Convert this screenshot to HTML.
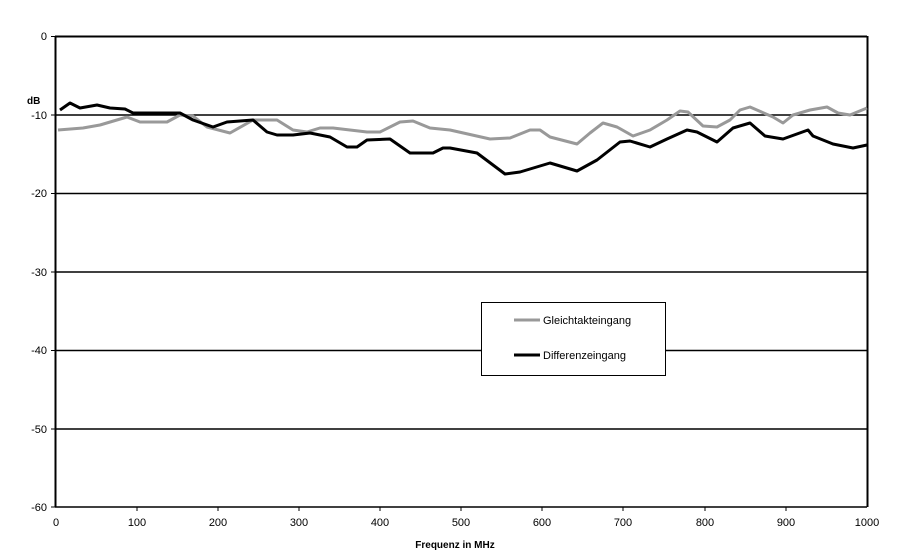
<!DOCTYPE html>
<html><head><meta charset="utf-8"><style>body{margin:0;background:#fff}svg{display:block}</style></head>
<body>
<svg width="910" height="552" viewBox="0 0 910 552" font-family="Liberation Sans, sans-serif">
<rect width="910" height="552" fill="#fff"/>
<g stroke="#000" stroke-width="1.5">
<line x1="55" y1="36.5" x2="867" y2="36.5" stroke-width="2"/>
<line x1="55" y1="115" x2="867" y2="115"/>
<line x1="55" y1="193.5" x2="867" y2="193.5"/>
<line x1="55" y1="272" x2="867" y2="272"/>
<line x1="55" y1="350.5" x2="867" y2="350.5"/>
<line x1="55" y1="429" x2="867" y2="429"/>
<line x1="55" y1="507" x2="867" y2="507"/>
<line x1="55.5" y1="36" x2="55.5" y2="507" stroke-width="2"/>
<line x1="867.5" y1="36" x2="867.5" y2="507" stroke-width="2"/>
</g>
<g stroke="#000" stroke-width="1">
<line x1="51" y1="36.5" x2="55" y2="36.5"/><line x1="51" y1="115" x2="55" y2="115"/><line x1="51" y1="193.5" x2="55" y2="193.5"/><line x1="51" y1="272" x2="55" y2="272"/><line x1="51" y1="350.5" x2="55" y2="350.5"/><line x1="51" y1="429" x2="55" y2="429"/><line x1="51" y1="507" x2="55" y2="507"/>
<line x1="137" y1="507" x2="137" y2="511"/><line x1="218" y1="507" x2="218" y2="511"/><line x1="299" y1="507" x2="299" y2="511"/><line x1="380" y1="507" x2="380" y2="511"/><line x1="461" y1="507" x2="461" y2="511"/><line x1="542" y1="507" x2="542" y2="511"/><line x1="623" y1="507" x2="623" y2="511"/><line x1="705" y1="507" x2="705" y2="511"/><line x1="786" y1="507" x2="786" y2="511"/>
</g>
<g font-size="11" text-anchor="end" fill="#000">
<text x="47" y="40">0</text><text x="47" y="119">-10</text><text x="47" y="197">-20</text><text x="47" y="276">-30</text><text x="47" y="354">-40</text><text x="47" y="433">-50</text><text x="47" y="511">-60</text>
</g>
<g font-size="11" text-anchor="middle" fill="#000">
<text x="56" y="526">0</text><text x="137" y="526">100</text><text x="218" y="526">200</text><text x="299" y="526">300</text><text x="380" y="526">400</text><text x="461" y="526">500</text><text x="542" y="526">600</text><text x="623" y="526">700</text><text x="705" y="526">800</text><text x="786" y="526">900</text><text x="867" y="526">1000</text>
</g>
<text x="27" y="104" font-size="10" font-weight="bold">dB</text>
<text x="455" y="548" font-size="10" font-weight="bold" text-anchor="middle">Frequenz in MHz</text>
<polyline fill="none" stroke="#999" stroke-width="3" stroke-linejoin="round" points="58,130 83,128 100,125 127,117 140,122 167,122 180,115 193,116 207,127 230,133 253,120 277,120 293,130 307,132 320,128 333,128 367,132 380,132 400,122 413,121 430,128 450,130 490,139 510,138 530,130 540,130 550,137 577,144 590,133 603,123 617,127 633,136 650,130 667,120 680,111 688,112 703,126 717,127 730,120 740,110 750,107 773,117 783,123 793,115 810,110 827,107 838,113 850,115 867,108"/>
<polyline fill="none" stroke="#000" stroke-width="3" stroke-linejoin="round" points="60,110 70,103 80,108 97,105 110,108 125,109 133,113 180,113 193,120 213,127 227,122 253,120 267,132 277,135 293,135 310,133 330,137 347,147 357,147 367,140 390,139 410,153 433,153 443,148 450,148 477,153 505,174 520,172 550,163 577,171 597,160 620,142 630,141 650,147 667,139 687,130 697,132 717,142 733,128 750,123 765,136 783,139 808,130 813,136 833,144 853,148 867,145"/>
<rect x="481.5" y="302.5" width="184" height="73" fill="#fff" stroke="#000" stroke-width="1"/>
<line x1="514" y1="320" x2="540" y2="320" stroke="#999" stroke-width="3"/>
<line x1="514" y1="355" x2="540" y2="355" stroke="#000" stroke-width="3"/>
<text x="543" y="324" font-size="11">Gleichtakteingang</text>
<text x="543" y="359" font-size="11">Differenzeingang</text>
</svg>
</body></html>
